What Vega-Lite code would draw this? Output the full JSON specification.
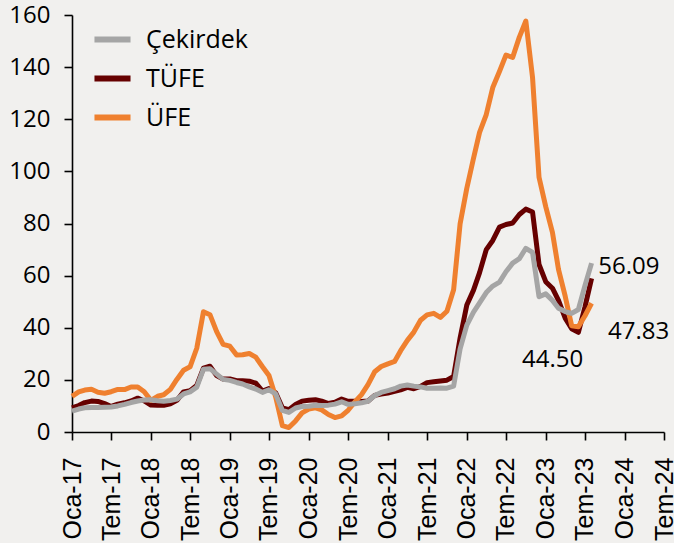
{
  "$schema": "https://vega.github.io/schema/vega-lite/v6.json",
  "autosize": {"type": "none"},
  "width": 592,
  "height": 417,
  "padding": {"left": 72, "top": 15, "right": 10, "bottom": 111},
  "background": "#F1F0EE",
  "config": {
    "view": {"stroke": null},
    "axis": {"grid": false, "domainColor": "#000000", "tickColor": "#000000", "domainWidth": 1.6, "tickWidth": 1.6, "tickSize": 8, "labelColor": "#000000", "title": null},
    "axisY": {"labelFont": "Open Sans", "labelFontSize": 24, "labelPadding": 14},
    "axisX": {"labelFont": "Liberation Sans", "labelFontSize": 25, "labelPadding": 17}
  },
  "datasets": {
    "infl": [
      {"d": "2017-01-01", "c": 8.0, "t": 9.22, "u": 13.69},
      {"d": "2017-02-01", "c": 8.8, "t": 10.13, "u": 15.36},
      {"d": "2017-03-01", "c": 9.3, "t": 11.29, "u": 16.09},
      {"d": "2017-04-01", "c": 9.4, "t": 11.87, "u": 16.37},
      {"d": "2017-05-01", "c": 9.4, "t": 11.72, "u": 15.26},
      {"d": "2017-06-01", "c": 9.5, "t": 10.90, "u": 14.87},
      {"d": "2017-07-01", "c": 9.6, "t": 9.79, "u": 15.45},
      {"d": "2017-08-01", "c": 10.0, "t": 10.68, "u": 16.34},
      {"d": "2017-09-01", "c": 10.6, "t": 11.20, "u": 16.28},
      {"d": "2017-10-01", "c": 11.3, "t": 11.90, "u": 17.28},
      {"d": "2017-11-01", "c": 11.9, "t": 12.98, "u": 17.30},
      {"d": "2017-12-01", "c": 12.3, "t": 11.92, "u": 15.47},
      {"d": "2018-01-01", "c": 12.4, "t": 10.35, "u": 12.14},
      {"d": "2018-02-01", "c": 12.0, "t": 10.26, "u": 13.71},
      {"d": "2018-03-01", "c": 11.8, "t": 10.23, "u": 14.28},
      {"d": "2018-04-01", "c": 12.1, "t": 10.85, "u": 16.37},
      {"d": "2018-05-01", "c": 12.6, "t": 12.15, "u": 20.16},
      {"d": "2018-06-01", "c": 14.6, "t": 15.39, "u": 23.71},
      {"d": "2018-07-01", "c": 15.4, "t": 15.85, "u": 25.00},
      {"d": "2018-08-01", "c": 17.2, "t": 17.90, "u": 32.13},
      {"d": "2018-09-01", "c": 24.1, "t": 24.52, "u": 46.15},
      {"d": "2018-10-01", "c": 24.3, "t": 25.24, "u": 45.01},
      {"d": "2018-11-01", "c": 22.2, "t": 21.62, "u": 38.54},
      {"d": "2018-12-01", "c": 20.2, "t": 20.30, "u": 33.64},
      {"d": "2019-01-01", "c": 19.8, "t": 20.35, "u": 32.93},
      {"d": "2019-02-01", "c": 19.0, "t": 19.67, "u": 29.59},
      {"d": "2019-03-01", "c": 18.4, "t": 19.71, "u": 29.64},
      {"d": "2019-04-01", "c": 17.3, "t": 19.50, "u": 30.12},
      {"d": "2019-05-01", "c": 16.5, "t": 18.71, "u": 28.71},
      {"d": "2019-06-01", "c": 15.2, "t": 15.72, "u": 25.04},
      {"d": "2019-07-01", "c": 16.2, "t": 16.65, "u": 21.66},
      {"d": "2019-08-01", "c": 14.6, "t": 15.01, "u": 13.45},
      {"d": "2019-09-01", "c": 8.3, "t": 9.26, "u": 2.45},
      {"d": "2019-10-01", "c": 7.5, "t": 8.55, "u": 1.70},
      {"d": "2019-11-01", "c": 9.2, "t": 10.56, "u": 4.26},
      {"d": "2019-12-01", "c": 9.8, "t": 11.84, "u": 7.36},
      {"d": "2020-01-01", "c": 9.9, "t": 12.15, "u": 8.84},
      {"d": "2020-02-01", "c": 10.3, "t": 12.37, "u": 9.26},
      {"d": "2020-03-01", "c": 10.2, "t": 11.86, "u": 8.50},
      {"d": "2020-04-01", "c": 10.3, "t": 10.94, "u": 6.71},
      {"d": "2020-05-01", "c": 10.7, "t": 11.39, "u": 5.53},
      {"d": "2020-06-01", "c": 11.6, "t": 12.62, "u": 6.17},
      {"d": "2020-07-01", "c": 10.6, "t": 11.76, "u": 8.33},
      {"d": "2020-08-01", "c": 10.8, "t": 11.77, "u": 11.53},
      {"d": "2020-09-01", "c": 11.2, "t": 11.75, "u": 14.33},
      {"d": "2020-10-01", "c": 11.8, "t": 11.89, "u": 18.20},
      {"d": "2020-11-01", "c": 14.0, "t": 14.03, "u": 23.11},
      {"d": "2020-12-01", "c": 15.2, "t": 14.60, "u": 25.15},
      {"d": "2021-01-01", "c": 15.9, "t": 14.97, "u": 26.16},
      {"d": "2021-02-01", "c": 16.6, "t": 15.61, "u": 27.09},
      {"d": "2021-03-01", "c": 17.6, "t": 16.19, "u": 31.20},
      {"d": "2021-04-01", "c": 18.0, "t": 17.14, "u": 35.17},
      {"d": "2021-05-01", "c": 17.6, "t": 16.59, "u": 38.33},
      {"d": "2021-06-01", "c": 17.3, "t": 17.53, "u": 42.89},
      {"d": "2021-07-01", "c": 16.8, "t": 18.95, "u": 44.92},
      {"d": "2021-08-01", "c": 16.8, "t": 19.25, "u": 45.52},
      {"d": "2021-09-01", "c": 16.9, "t": 19.58, "u": 43.96},
      {"d": "2021-10-01", "c": 16.8, "t": 19.89, "u": 46.31},
      {"d": "2021-11-01", "c": 17.6, "t": 21.31, "u": 54.62},
      {"d": "2021-12-01", "c": 31.9, "t": 36.08, "u": 79.89},
      {"d": "2022-01-01", "c": 41.0, "t": 48.69, "u": 93.53},
      {"d": "2022-02-01", "c": 46.0, "t": 54.44, "u": 105.01},
      {"d": "2022-03-01", "c": 49.5, "t": 61.14, "u": 114.97},
      {"d": "2022-04-01", "c": 53.5, "t": 69.97, "u": 121.82},
      {"d": "2022-05-01", "c": 56.0, "t": 73.50, "u": 132.16},
      {"d": "2022-06-01", "c": 57.5, "t": 78.62, "u": 138.31},
      {"d": "2022-07-01", "c": 61.5, "t": 79.60, "u": 144.61},
      {"d": "2022-08-01", "c": 64.8, "t": 80.21, "u": 143.75},
      {"d": "2022-09-01", "c": 66.5, "t": 83.45, "u": 151.50},
      {"d": "2022-10-01", "c": 70.5, "t": 85.51, "u": 157.69},
      {"d": "2022-11-01", "c": 68.9, "t": 84.39, "u": 136.02},
      {"d": "2022-12-01", "c": 51.9, "t": 64.27, "u": 97.72},
      {"d": "2023-01-01", "c": 53.0, "t": 57.68, "u": 86.46},
      {"d": "2023-02-01", "c": 50.5, "t": 55.18, "u": 76.61},
      {"d": "2023-03-01", "c": 47.5, "t": 50.51, "u": 62.43},
      {"d": "2023-04-01", "c": 46.2, "t": 43.68, "u": 52.11},
      {"d": "2023-05-01", "c": 45.5, "t": 39.59, "u": 40.76},
      {"d": "2023-06-01", "c": 47.0, "t": 38.21, "u": 40.42},
      {"d": "2023-07-01", "c": 56.09, "t": 47.83, "u": 44.50},
      {"d": "2023-08-01", "c": 64.8, "t": 58.94, "u": 49.41}
    ],
    "ann": [
      {"d": "2023-09-01", "v": 63.3, "label": "56.09"},
      {"d": "2023-10-16", "v": 38.4, "label": "47.83"},
      {"d": "2022-09-13", "v": 27.6, "label": "44.50"}
    ]
  },
  "encoding": {
    "x": {
      "field": "d", "type": "temporal",
      "scale": {"type": "utc", "domain": [{"year": 2017, "month": 1, "date": 1, "utc": true}, {"year": 2024, "month": 7, "date": 1, "utc": true}], "nice": false},
      "axis": {
        "tickCount": {"interval": "month", "step": 6},
        "labelExpr": "(utcmonth(datum.value) == 0 ? 'Oca-' : 'Tem-') + utcFormat(datum.value, '%y')",
        "labelAngle": 270, "labelAlign": "right", "labelBaseline": "middle",
        "labelOverlap": false, "labelFlush": false, "labelBound": false
      }
    }
  },
  "layer": [
    {
      "data": {"name": "infl"},
      "mark": {"type": "line", "strokeWidth": 5, "strokeJoin": "round"},
      "encoding": {
        "y": {"field": "t", "type": "quantitative", "scale": {"domain": [0, 160], "nice": false},
          "axis": {"values": [0, 20, 40, 60, 80, 100, 120, 140, 160]}},
        "color": {"datum": "TÜFE", "type": "nominal",
          "scale": {"domain": ["Çekirdek", "TÜFE", "ÜFE"], "range": ["#A5A5A5", "#660000", "#EF802F"]},
          "legend": {"title": null, "orient": "none", "legendX": 19, "legendY": 3, "symbolType": "stroke", "symbolStrokeWidth": 6, "symbolSize": 1300, "labelFont": "Open Sans", "labelFontSize": 25, "labelColor": "#000000", "labelOffset": 12, "rowPadding": 4, "padding": 0}}
      }
    },
    {
      "data": {"name": "infl"},
      "mark": {"type": "line", "strokeWidth": 5, "strokeJoin": "round"},
      "encoding": {
        "y": {"field": "u", "type": "quantitative"},
        "color": {"datum": "ÜFE", "type": "nominal"}
      }
    },
    {
      "data": {"name": "infl"},
      "mark": {"type": "line", "strokeWidth": 5, "strokeJoin": "round"},
      "encoding": {
        "y": {"field": "c", "type": "quantitative"},
        "color": {"datum": "Çekirdek", "type": "nominal"}
      }
    },
    {
      "data": {"name": "ann"},
      "mark": {"type": "text", "font": "Open Sans", "fontSize": 24, "color": "#000000", "baseline": "middle", "align": "left"},
      "encoding": {
        "y": {"field": "v", "type": "quantitative"},
        "text": {"field": "label"}
      }
    }
  ]
}
